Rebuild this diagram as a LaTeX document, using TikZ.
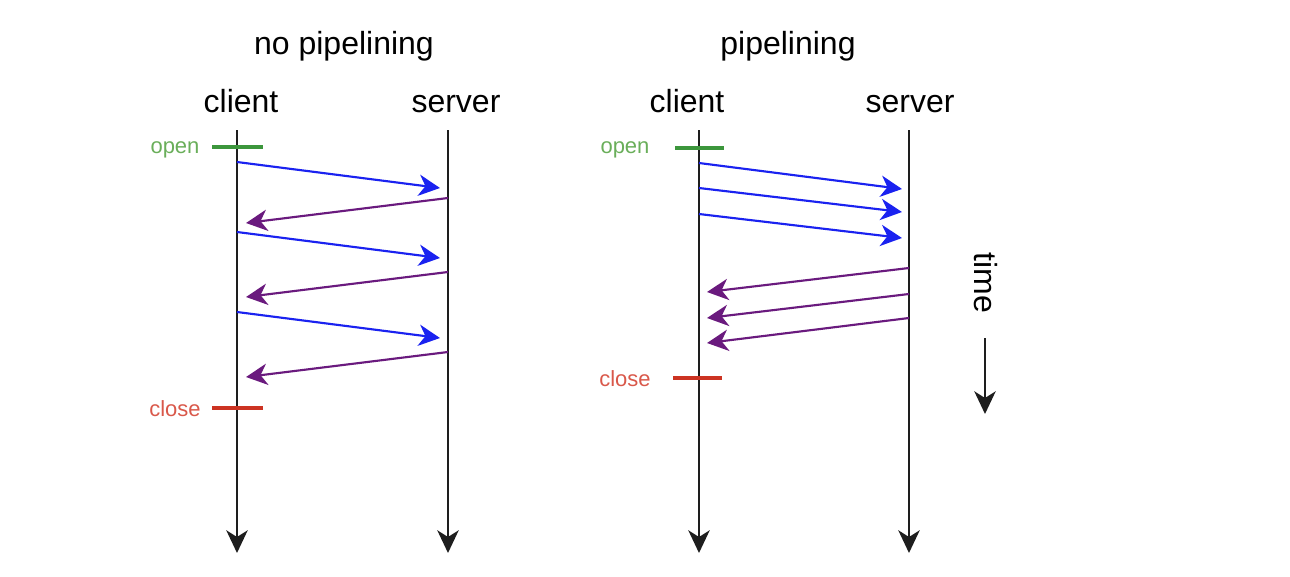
\documentclass[tikz,border=0pt]{standalone}
\usepackage{fontspec}
\setmainfont{Liberation Sans}
\usetikzlibrary{arrows.meta}
\definecolor{reqblue}{HTML}{1A22F0}
\definecolor{respurple}{HTML}{6A1A7E}
\definecolor{opengreen}{HTML}{3C963C}
\definecolor{opentext}{HTML}{6AAE5A}
\definecolor{closered}{HTML}{CC3322}
\definecolor{closetext}{HTML}{D9584A}
\definecolor{lifeline}{HTML}{1E1E1E}
\tikzset{
  life/.style={draw=lifeline, line width=2pt, -{Stealth[length=17pt,width=16pt,inset=5pt]}},
  req/.style={draw=reqblue, line width=1.6pt, -{Stealth[length=16pt,width=16pt,inset=5pt]}},
  resp/.style={draw=respurple, line width=1.6pt, -{Stealth[length=16pt,width=16pt,inset=5pt]}},
  tickopen/.style={draw=opengreen, line width=3pt},
  tickclose/.style={draw=closered, line width=3pt},
  title/.style={font=\fontsize{24}{28}\selectfont, text=black, inner sep=0pt, anchor=base},
  small/.style={font=\fontsize{16.5}{19}\selectfont, inner sep=0pt, anchor=base},
}
\begin{document}
\begin{tikzpicture}[x=0.75pt,y=-0.75pt]
\useasboundingbox (0,0) rectangle (1290,576);
% ---------- left: no pipelining
\node[title] (t1) at (344,54) {no pipelining};
\node[title] (c1) at (241,112) {client};
\node[title] (s1) at (456,112) {server};
\coordinate (c1top) at (237,130); \coordinate (c1bot) at (237,553);
\coordinate (s1top) at (448,130); \coordinate (s1bot) at (448,553);
\draw[life] (c1top) -- (c1bot);
\draw[life] (s1top) -- (s1bot);
\coordinate (o1a) at (212,147); \coordinate (o1b) at (263,147);
\draw[tickopen] (o1a) -- (o1b);
\node[small, text=opentext] (o1) at (175,153) {open};
\coordinate (x1a) at (212,408); \coordinate (x1b) at (263,408);
\draw[tickclose] (x1a) -- (x1b);
\node[small, text=closetext] (x1) at (175,416) {close};
\coordinate (r1a) at (237,162); \coordinate (r1b) at (440,188);
\coordinate (r2a) at (237,232); \coordinate (r2b) at (440,258);
\coordinate (r3a) at (237,312); \coordinate (r3b) at (440,338);
\coordinate (p1a) at (448,198); \coordinate (p1b) at (246,223);
\coordinate (p2a) at (448,272); \coordinate (p2b) at (246,297);
\coordinate (p3a) at (448,352); \coordinate (p3b) at (246,377);
\draw[req] (r1a) -- (r1b);
\draw[req] (r2a) -- (r2b);
\draw[req] (r3a) -- (r3b);
\draw[resp] (p1a) -- (p1b);
\draw[resp] (p2a) -- (p2b);
\draw[resp] (p3a) -- (p3b);
% ---------- right: pipelining
\node[title] (t2) at (788,54) {pipelining};
\node[title] (c2) at (687,112) {client};
\node[title] (s2) at (910,112) {server};
\coordinate (c2top) at (699,130); \coordinate (c2bot) at (699,553);
\coordinate (s2top) at (909,130); \coordinate (s2bot) at (909,553);
\draw[life] (c2top) -- (c2bot);
\draw[life] (s2top) -- (s2bot);
\coordinate (o2a) at (675,148); \coordinate (o2b) at (724,148);
\draw[tickopen] (o2a) -- (o2b);
\node[small, text=opentext] (o2) at (625,153) {open};
\coordinate (x2a) at (673,378); \coordinate (x2b) at (722,378);
\draw[tickclose] (x2a) -- (x2b);
\node[small, text=closetext] (x2) at (625,386) {close};
\coordinate (q1a) at (699,163); \coordinate (q1b) at (902,189);
\coordinate (q2a) at (699,188); \coordinate (q2b) at (902,212);
\coordinate (q3a) at (699,214); \coordinate (q3b) at (902,238);
\coordinate (u1a) at (909,268); \coordinate (u1b) at (707,292);
\coordinate (u2a) at (909,294); \coordinate (u2b) at (707,318);
\coordinate (u3a) at (909,318); \coordinate (u3b) at (707,343);
\draw[req] (q1a) -- (q1b);
\draw[req] (q2a) -- (q2b);
\draw[req] (q3a) -- (q3b);
\draw[resp] (u1a) -- (u1b);
\draw[resp] (u2a) -- (u2b);
\draw[resp] (u3a) -- (u3b);
% ---------- time
\node[font=\fontsize{24}{28}\selectfont, inner sep=0pt, rotate=-90] (time) at (986,283) {time};
\coordinate (ta) at (985,338); \coordinate (tb) at (985,414);
\draw[draw=lifeline, line width=1.8pt, -{Stealth[length=17pt,width=16pt,inset=5pt]}] (ta) -- (tb);
\end{tikzpicture}
\end{document}
